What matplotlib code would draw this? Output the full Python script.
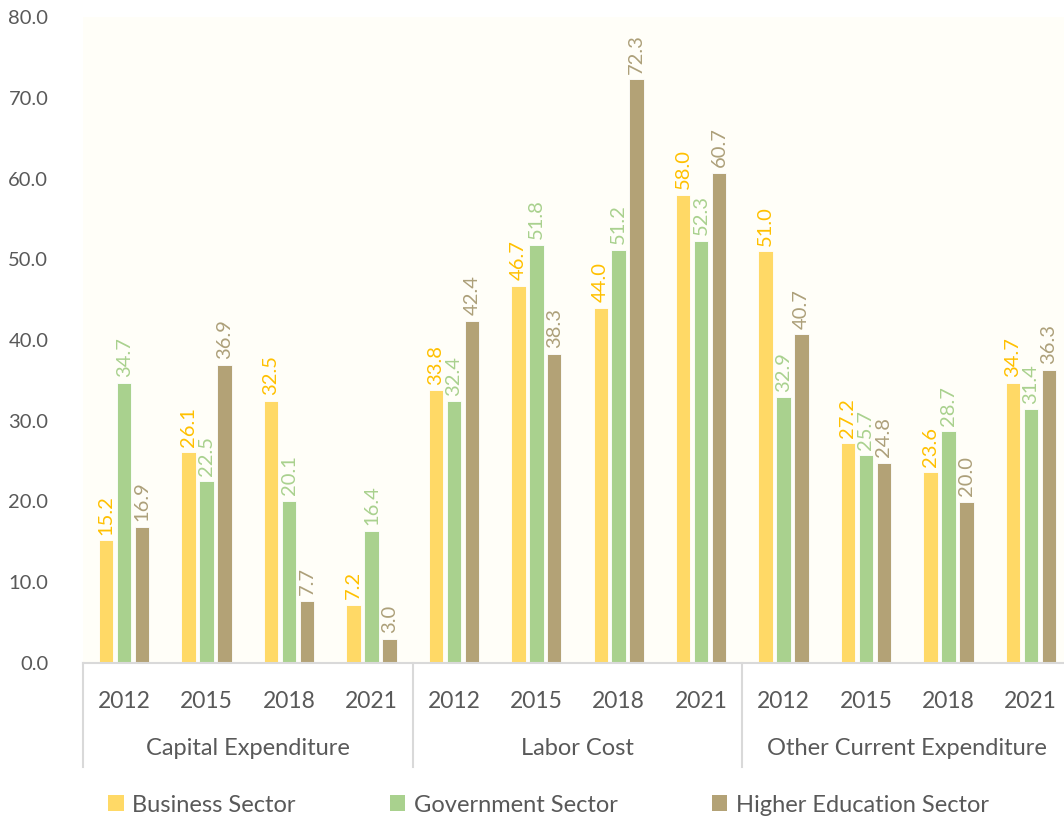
import matplotlib
matplotlib.use("Agg")
import matplotlib.pyplot as plt
from matplotlib.patches import Patch
import matplotlib.transforms as mtransforms
import numpy as np

categories = ['Capital Expenditure', 'Labor Cost', 'Other Current Expenditure']
years = ['2012', '2015', '2018', '2021']
series_names = ['Business Sector', 'Government Sector', 'Higher Education Sector']
business = [15.2, 26.1, 32.5, 7.2, 33.8, 46.7, 44.0, 58.0, 51.0, 27.2, 23.6, 34.7]
government = [34.7, 22.5, 20.1, 16.4, 32.4, 51.8, 51.2, 52.3, 32.9, 25.7, 28.7, 31.4]
higher = [16.9, 36.9, 7.7, 3.0, 42.4, 38.3, 72.3, 60.7, 40.7, 24.8, 20.0, 36.3]

bar_colors = ['#FFD966', '#A9D18E', '#B3A276']
label_colors = ['#FFC000', '#A9D18E', '#ADA07A']
text_color = '#595959'
line_color = '#D9D9D9'

plt.rcParams['font.family'] = ['Lato', 'DejaVu Sans']

fig = plt.figure(figsize=(10.64, 8.18), dpi=100)
ax = fig.add_axes([83/1064, 1-663/818, (1072-83)/1064, (663-17)/818])
ax.set_facecolor('#FFFEF8')

n = len(categories) * len(years)
x = np.arange(n)
width = 0.175
offsets = [-0.218, 0.0, 0.218]
all_series = [business, government, higher]
for vals, off, bc, lc in zip(all_series, offsets, bar_colors, label_colors):
    bars = ax.bar(x + off, vals, width=width, color=bc, edgecolor='white', linewidth=0.6, zorder=2)
    for rect, v in zip(bars, vals):
        ax.annotate(f'{v:.1f}', (rect.get_x() + rect.get_width()/2, rect.get_height()),
                    xytext=(0, 4), textcoords='offset points', rotation=90,
                    ha='center', va='bottom', color=lc, fontsize=14.5)

ax.set_xlim(-0.5, n - 0.5)
ax.set_ylim(0, 80)
ax.set_yticks(np.arange(0, 81, 10))
ax.set_yticklabels([f'{v:.1f}' for v in np.arange(0, 81, 10)])
ax.tick_params(axis='y', length=0, pad=25, labelsize=14.5, labelcolor=text_color)
ax.set_xticks(x)
ax.set_xticklabels(years * len(categories))
ax.tick_params(axis='x', length=0, pad=20, labelsize=16.5, labelcolor=text_color)
for s in ['top', 'right', 'left']:
    ax.spines[s].set_visible(False)
ax.spines['bottom'].set_color(line_color)
ax.spines['bottom'].set_linewidth(1.5)

trans = mtransforms.blended_transform_factory(ax.transData, ax.transAxes)
for k in range(len(categories) + 1):
    xb = k * len(years) - 0.5
    ax.plot([xb, xb], [0, -0.161], transform=trans, color=line_color, lw=1.5, clip_on=False)
for k, cat in enumerate(categories):
    xc = k * len(years) + (len(years) - 1) / 2
    ax.text(xc, -0.133, cat, transform=trans, ha='center', va='center',
            fontsize=17, color=text_color)

handles = [Patch(facecolor=c, edgecolor='none') for c in bar_colors]
fig.legend(handles, series_names, loc='center left', bbox_to_anchor=(0.082, 1 - 805/818),
           ncol=3, frameon=False, labelcolor=text_color, fontsize=17,
           handlelength=0.65, handleheight=0.65, handletextpad=0.35, columnspacing=4.0)

fig.savefig('out.png', dpi=100, facecolor='white')
